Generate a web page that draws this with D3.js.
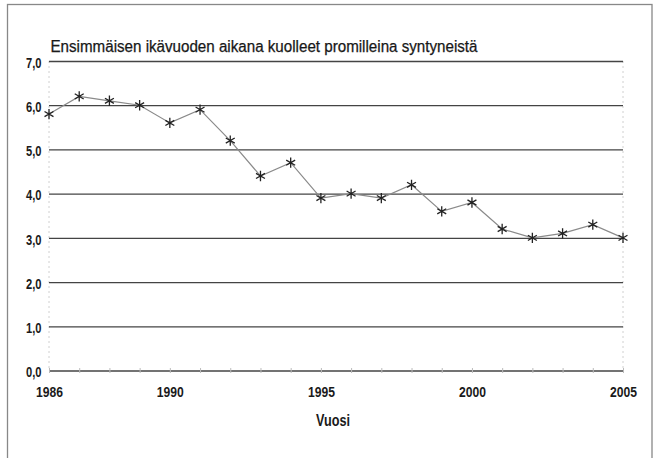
<!DOCTYPE html>
<html><head><meta charset="utf-8">
<script src="https://cdn.jsdelivr.net/npm/d3@7"></script>
<style>
body{margin:0;background:#fff;}
text{font-family:"Liberation Sans",Arial,sans-serif;fill:#1a1a1a;}
</style></head>
<body>
<svg id="c" width="660" height="458"></svg>
<script>
const years = [1986,1987,1988,1989,1990,1991,1992,1993,1994,1995,1996,1997,1998,1999,2000,2001,2002,2003,2004,2005];
const values = [5.8,6.2,6.1,6.0,5.6,5.9,5.2,4.4,4.7,3.9,4.0,3.9,4.2,3.6,3.8,3.2,3.0,3.1,3.3,3.0];
const yTicks = [0,1,2,3,4,5,6,7];
const xTickLabels = [1986,1990,1995,2000,2005];
const title = "Ensimmäisen ikävuoden aikana kuolleet promilleina syntyneistä";
const xTitle = "Vuosi";

const svg = d3.select("#c");
const x = d3.scaleLinear().domain([1986,2005]).range([49,623]);
const y = d3.scaleLinear().domain([0,7]).range([370.5,61]);

// outer frame
svg.append("rect").attr("x",7.5).attr("y",4.5).attr("width",644.5).attr("height",470)
  .attr("fill","none").attr("stroke","#888").attr("stroke-width",1.3);

// vertical light dashed edges
[1986,2005].forEach(v=>{
  svg.append("line").attr("x1",x(v)).attr("x2",x(v)).attr("y1",y(7)).attr("y2",y(0))
    .attr("stroke","#d0d0d0").attr("stroke-dasharray","2,3");
});

// gridlines + y labels
const yAxis = d3.axisLeft(y).tickValues(yTicks).tickSize(-(x(2005)-x(1986)))
  .tickFormat(d=>d3.format(".1f")(d).replace(".",","));
const gy = svg.append("g").attr("transform",`translate(${x(1986)},0)`).call(yAxis);
gy.select(".domain").remove();
gy.selectAll(".tick line").attr("stroke","#444").attr("stroke-width",1.3);
gy.selectAll(".tick text").attr("x",-7.5).attr("dy","0.42em").style("font-size","15px").style("font-weight","bold")
  .attr("fill","#222").attr("textLength",15.5).attr("lengthAdjust","spacingAndGlyphs");

// x axis minor ticks
const xAxis = d3.axisBottom(x).tickValues(years).tickSize(5).tickFormat("");
const gx = svg.append("g").attr("transform",`translate(0,${y(0)-2.5})`).call(xAxis);
gx.select(".domain").remove();
gx.selectAll(".tick line").attr("stroke","#bbb");

const xAxis2 = d3.axisBottom(x).tickValues(xTickLabels).tickSize(0).tickFormat(d3.format("d"));
const gx2 = svg.append("g").attr("transform",`translate(0,0)`).call(xAxis2);
gx2.select(".domain").remove();
gx2.selectAll(".tick text").attr("y",396.5).attr("dy",null).style("font-size","15px").style("font-weight","bold")
  .attr("fill","#222").attr("textLength",27).attr("lengthAdjust","spacingAndGlyphs")
  .attr("x",0);

// line
const line = d3.line().x((d,i)=>x(years[i])).y(d=>y(d));
svg.append("path").datum(values).attr("d",line).attr("fill","none").attr("stroke","#8a8a8a").attr("stroke-width",1.2);

// star markers
const star = d3.symbol().type(d3.symbolAsterisk).size(75);
svg.selectAll(".pt").data(values).enter().append("path")
  .attr("transform",(d,i)=>`translate(${x(years[i])},${y(d)})`)
  .attr("d",star).attr("fill","none").attr("stroke","#222").attr("stroke-width",1.3);

svg.append("text").attr("x",50.5).attr("y",51.7).text(title).style("font-size","16px").attr("fill","#111")
  .attr("stroke","#111").attr("stroke-width",0.25)
  .attr("textLength",427).attr("lengthAdjust","spacingAndGlyphs");
svg.append("text").attr("x",333).attr("y",425.5).attr("text-anchor","middle").text(xTitle)
  .style("font-size","16px").style("font-weight","bold")
  .attr("textLength",34).attr("lengthAdjust","spacingAndGlyphs");
</script>
</body></html>
